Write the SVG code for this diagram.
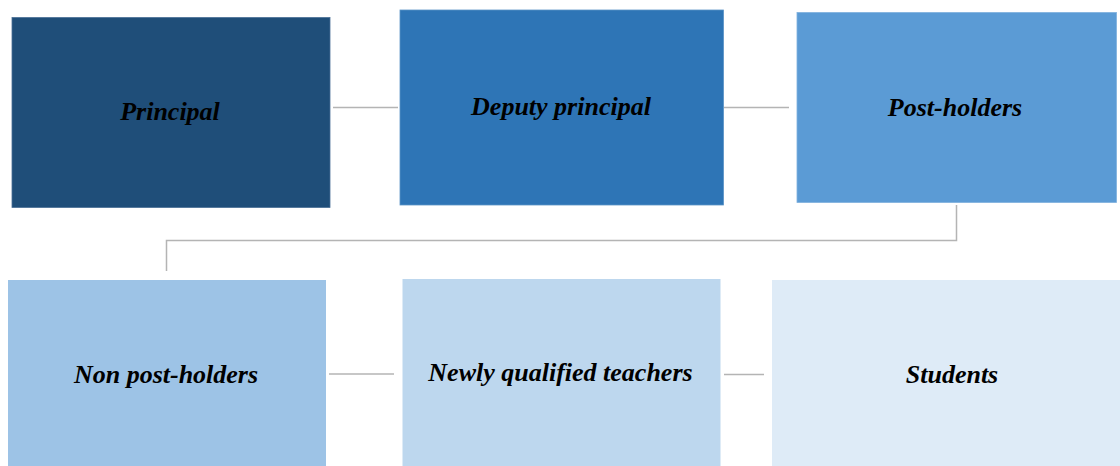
<svg xmlns="http://www.w3.org/2000/svg" width="1120" height="466" viewBox="0 0 1120 466">
<style>
.lbl{font-family:'Liberation Serif','DejaVu Serif',serif;font-weight:700;font-style:italic;font-size:26px;fill:#000;text-anchor:middle}
.conn{stroke:#b4b4b4;stroke-width:1.5;fill:none}
</style>
<rect width="1120" height="466" fill="#fff"/>
<g id="connectors">
<line class="conn" x1="333" y1="107.5" x2="398" y2="107.5"/>
<line class="conn" x1="724" y1="107.5" x2="789" y2="107.5"/>
<polyline class="conn" points="956.5,205 956.5,240.5 166.5,240.5 166.5,271"/>
<line class="conn" x1="329" y1="374" x2="394" y2="374"/>
<line class="conn" x1="724" y1="374.5" x2="764" y2="374.5"/>
</g>
<g id="principal">
<rect x="12" y="17.5" width="318" height="190" fill="#1f4e79" stroke="#4a6f96" stroke-width="0.8"/>
<text class="lbl" x="170" y="120">Principal</text>
</g>
<g id="deputy">
<rect x="400" y="10" width="323.5" height="195" fill="#2e75b6" stroke="#5a93c6" stroke-width="0.8"/>
<text class="lbl" x="561" y="115">Deputy principal</text>
</g>
<g id="postholders">
<rect x="797" y="12.5" width="319.5" height="190" fill="#5b9bd5" stroke="#7fb1de" stroke-width="0.8"/>
<text class="lbl" x="955" y="116">Post-holders</text>
</g>
<g id="nonpostholders">
<rect x="8" y="280" width="318" height="186" fill="#9dc3e6"/>
<text class="lbl" x="166" y="382.5">Non post-holders</text>
</g>
<g id="nqt">
<rect x="402.5" y="279" width="318" height="187" fill="#bdd7ee"/>
<text class="lbl" x="560.5" y="381">Newly qualified teachers</text>
</g>
<g id="students">
<rect x="772" y="280" width="348" height="186" fill="#deebf7"/>
<text class="lbl" x="952" y="382.5">Students</text>
</g>
</svg>
